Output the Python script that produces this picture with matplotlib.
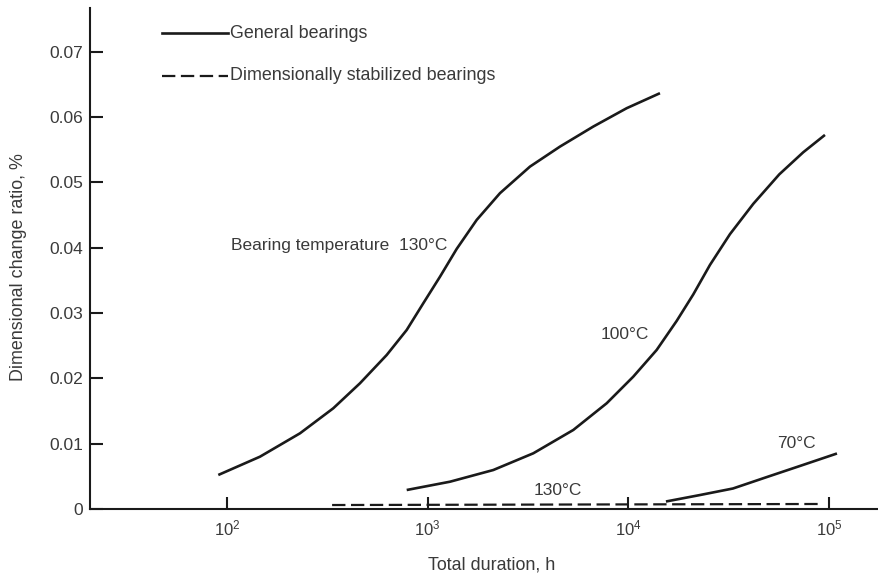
import matplotlib
matplotlib.use("Agg")
import matplotlib.pyplot as plt
from matplotlib.lines import Line2D
from matplotlib.ticker import FixedLocator, FixedFormatter, NullLocator

plt.rcParams['font.family'] = ['Liberation Sans', 'DejaVu Sans']
plt.rcParams['mathtext.fontset'] = 'custom'
plt.rcParams['mathtext.rm'] = 'Liberation Sans'
plt.rcParams['mathtext.it'] = 'Liberation Sans:italic'

# general bearings, 130 C
hours_130 = [90.5, 146.0, 231.1, 338.5, 459.9, 624.9, 786.1, 951.0, 1152,
             1395, 1755, 2292, 3234, 4561, 6686, 9807, 14370]
ratio_130 = [0.00521, 0.00801, 0.01159, 0.01542, 0.01925, 0.02358, 0.02741,
             0.03150, 0.03557, 0.03982, 0.04426, 0.04835, 0.05242, 0.05548,
             0.05855, 0.06136, 0.06366]

# general bearings, 100 C
hours_100 = [786.1, 1292, 2123, 3360, 5316, 7799, 10578, 13836, 17401,
             21057, 25506, 32083, 41921, 56485, 74340, 95410]
ratio_100 = [0.00291, 0.00418, 0.00597, 0.00853, 0.01210, 0.01619, 0.02026,
             0.02435, 0.02879, 0.03285, 0.03737, 0.04208, 0.04672, 0.05123,
             0.05461, 0.05727]

# general bearings, 70 C
hours_70 = [15390, 22740, 33200, 49050, 71610, 109500]
ratio_70 = [0.00115, 0.00214, 0.00314, 0.00490, 0.00659, 0.00850]

# dimensionally stabilized bearings, 130 C
hours_stab = [334, 5609, 93240]
ratio_stab = [0.00061, 0.00069, 0.00077]

xticks = [1e2, 1e3, 1e4, 1e5]
xtick_labels = ['$10^{2}$', '$10^{3}$', '$10^{4}$', '$10^{5}$']
yticks = [0, 0.01, 0.02, 0.03, 0.04, 0.05, 0.06, 0.07]
ytick_labels = ['0', '0.01', '0.02', '0.03', '0.04', '0.05', '0.06', '0.07']

ink = '#1a1a1a'
txt_col = '#3a3a3a'
dash = (0, (6, 2.5))

fig = plt.figure(figsize=(8.79, 5.76), dpi=100)
ax = fig.add_axes([0.1024, 0.1163, 0.8953, 0.8698])

for xs, ys in [(hours_130, ratio_130), (hours_100, ratio_100), (hours_70, ratio_70)]:
    ax.plot(xs, ys, color=ink, lw=1.9, solid_capstyle='butt', solid_joinstyle='round')
ax.plot(hours_stab, ratio_stab, color=ink, lw=1.6, linestyle=dash)

ax.set_xscale('log')
ax.set_xlim(20.77, 173300)
ax.set_ylim(0, 0.0767)

ax.xaxis.set_major_locator(FixedLocator(xticks))
ax.xaxis.set_major_formatter(FixedFormatter(xtick_labels))
ax.xaxis.set_minor_locator(NullLocator())
ax.set_yticks(yticks)
ax.set_yticklabels(ytick_labels)

ax.tick_params(axis='both', direction='in', length=9, width=1.5, color=ink,
               labelcolor=txt_col)
ax.tick_params(axis='x', pad=7, labelsize=12)
ax.tick_params(axis='y', pad=5, labelsize=12.5)

for side in ['top', 'right']:
    ax.spines[side].set_visible(False)
for side in ['left', 'bottom']:
    ax.spines[side].set_linewidth(1.5)
    ax.spines[side].set_color(ink)

# curve labels
txt = dict(color=txt_col, fontsize=12.5)
ax.text(1248, 0.0404, 'Bearing temperature  130°C', ha='right', va='center', **txt)
ax.text(9616, 0.02665, '100°C', ha='center', va='center', **txt)
ax.text(68400, 0.0101, '70°C', ha='center', va='center', **txt)
ax.text(4457, 0.0029, '130°C', ha='center', va='center', **txt)

# hand-drawn key at the top
W, H = 879.0, 576.0
fig.add_artist(Line2D([162 / W, 228 / W], [1 - 33 / H, 1 - 33 / H],
                      color=ink, lw=1.9))
fig.add_artist(Line2D([162 / W, 228 / W], [1 - 76 / H, 1 - 76 / H],
                      color=ink, lw=1.6, linestyle=dash))
fig.text(230 / W, 1 - 33 / H, 'General bearings', ha='left', va='center',
         color=txt_col, fontsize=12.9)
fig.text(230 / W, 1 - 76 / H, 'Dimensionally stabilized bearings', ha='left',
         va='center', color=txt_col, fontsize=12.9)

fig.text(19 / W, 1 - 267 / H, 'Dimensional change ratio, %', rotation=90,
         ha='center', va='center', color=txt_col, fontsize=12.9)
fig.text(492 / W, 1 - 565 / H, 'Total duration, h', ha='center', va='center',
         color=txt_col, fontsize=12.9)

fig.savefig('out.png', dpi=100)
